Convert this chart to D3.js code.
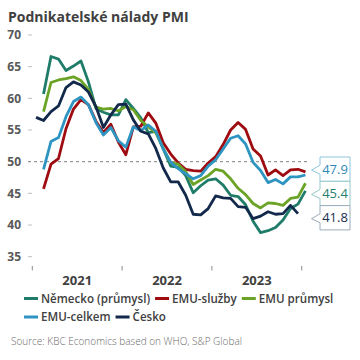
<!DOCTYPE html>
<html><head><meta charset="utf-8">
<script src="https://cdn.jsdelivr.net/npm/d3@7"></script>
<style>
html,body{margin:0;padding:0;background:#fff;}
svg{display:block;}
text{font-family:"Open Sans","Noto Sans",sans-serif;}
</style></head>
<body>
<script>
// ---- data ----
const months = ["2021-01","2021-02","2021-03","2021-04","2021-05","2021-06","2021-07","2021-08","2021-09","2021-10","2021-11","2021-12",
"2022-01","2022-02","2022-03","2022-04","2022-05","2022-06","2022-07","2022-08","2022-09","2022-10","2022-11","2022-12",
"2023-01","2023-02","2023-03","2023-04","2023-05","2023-06","2023-07","2023-08","2023-09","2023-10","2023-11","2023-12","2024-01"];
const yearLabels = ["2021","2022","2023"];
const yearTicks = ["2021-01","2022-01","2023-01","2024-01"];
const yTicks = [35,40,45,50,55,60,65,70];

const nemecko = [null,60.7,66.6,66.2,64.4,65.1,65.9,62.6,58.4,57.8,57.4,57.4,
 59.8,58.4,56.9,54.6,54.8,52.0,49.3,49.1,47.8,45.1,46.2,47.1,
 47.3,46.3,44.7,44.5,43.2,40.6,38.8,39.1,39.6,40.8,42.6,43.3,45.4];
const emuSluzby = [null,45.7,49.6,50.5,55.2,58.3,59.8,59.0,56.4,54.6,55.9,53.1,
 51.1,55.5,55.6,57.7,56.1,53.0,51.2,49.8,48.8,48.6,48.5,49.8,
 50.8,52.7,55.0,56.2,55.1,52.0,50.9,47.9,48.7,47.8,48.7,48.8,48.4];
const emuPrumysl = [null,57.9,62.5,62.9,63.1,63.4,62.8,61.4,58.6,58.3,58.4,58.0,
 58.7,58.2,56.5,55.5,54.6,52.1,49.8,49.6,48.4,46.4,47.1,47.8,
 48.8,48.5,47.3,45.8,44.8,43.4,42.7,43.5,43.4,43.1,44.2,44.4,46.6];
const emuCelkem = [null,48.8,53.2,53.8,57.1,59.5,60.2,59.0,56.2,54.2,55.4,53.3,
 52.3,55.5,54.9,55.8,54.8,52.0,49.9,48.9,48.1,47.3,47.8,49.3,
 50.3,52.0,53.7,54.1,52.8,49.9,48.6,46.7,47.2,46.5,47.6,47.6,47.9];
const cesko = [57.0,56.5,57.9,58.8,61.7,62.6,62.1,61.0,58.7,55.4,57.4,59.0,
 59.1,56.6,54.8,54.4,52.1,49.0,46.8,46.8,44.7,41.7,41.6,42.6,
 44.6,44.3,44.2,42.9,42.8,41.0,41.4,42.1,41.7,41.8,43.1,41.8,null];

const seriesNames = ["Německo (průmysl)","EMU-služby","EMU průmysl","EMU-celkem","Česko"];
const seriesValues = [nemecko, emuSluzby, emuPrumysl, emuCelkem, cesko];
const seriesColors = ["#1f7c69","#9e0b10","#6aa326","#2e95c2","#13294b"];
// callouts: which series, text colour, border colour
const calloutSeries = [3, 0, 4];
const calloutText = ["#2f89b6","#26806e","#1b2f4e"];
const calloutBorder = ["#8fc4dc","#93c9c6","#9aabbb"];

// ---- drawing ----
const W = 360, H = 360;
const svg = d3.select("body").append("svg").attr("width", W).attr("height", H);

const x = d3.scaleBand().domain(months).range([32.3, 309.2]).paddingInner(0).paddingOuter(0);
const y = d3.scaleLinear().domain([35, 70]).range([256.7, 35]);
const cx = m => x(m) + x.bandwidth() / 2;

// title
svg.append("text").attr("x", 8).attr("y", 22)
  .attr("font-size", 14).attr("font-weight", 700).attr("fill", "#404040")
  .text("Podnikatelské nálady PMI");

// y axis ticks & labels
const yg = svg.append("g");
yTicks.forEach(v => {
  if (v !== 50) yg.append("line").attr("x1", 28).attr("x2", 32).attr("y1", y(v)).attr("y2", y(v))
      .attr("stroke", "#bfbfbf").attr("stroke-width", 1);
  yg.append("text").attr("x", 21).attr("y", y(v)).attr("dy", "0.36em")
    .attr("text-anchor", "end").attr("font-size", 12).attr("font-weight", 700)
    .attr("fill", "#595959").text(v);
});
// 50 reference dashed line
svg.append("line").attr("x1", 28).attr("x2", x.range()[1]).attr("y1", y(50)).attr("y2", y(50))
  .attr("stroke", "#808080").attr("stroke-width", 1).attr("stroke-dasharray", "3,3");

// x ticks
yearTicks.forEach(m => {
  svg.append("line").attr("x1", x(m)).attr("x2", x(m)).attr("y1", 266).attr("y2", 270.5)
    .attr("stroke", "#8c8c8c").attr("stroke-width", 1);
});
yearLabels.forEach(yr => {
  const mid = x(yr + "-01") + 6 * x.bandwidth();
  svg.append("text").attr("x", mid).attr("y", 284.5).attr("text-anchor", "middle")
    .attr("font-size", 13).attr("font-weight", 700).attr("fill", "#404040").text(yr);
});

// lines
const line = d3.line().defined(d => d.v != null).x(d => cx(d.m)).y(d => y(d.v)).curve(d3.curveLinear);
seriesValues.forEach((vals, i) => {
  const pts = months.map((m, j) => ({m, v: vals[j]}));
  svg.append("path").datum(pts).attr("d", line)
    .attr("fill", "none").attr("stroke", seriesColors[i]).attr("stroke-width", 2.8)
    .attr("stroke-linejoin", "round").attr("stroke-linecap", "butt");
});

// callouts (stacked at right)
const boxX = 320, boxW = 30, boxTop = 157, boxH = 24.3, tipX = 311.5;
calloutSeries.forEach((si, k) => {
  const vals = seriesValues[si];
  let last = null;
  for (let j = vals.length - 1; j >= 0; j--) { if (vals[j] != null) { last = vals[j]; break; } }
  const t = boxTop + k * boxH, b = t + boxH, cy = (t + b) / 2;
  const p = [[boxX, t],[boxX + boxW, t],[boxX + boxW, b],[boxX, b],[boxX, cy + 5],[tipX, cy + 1],[boxX, cy - 4]];
  svg.append("path").attr("d", "M" + p.map(q => q.join(",")).join("L") + "Z")
    .attr("fill", "#fff").attr("stroke", calloutBorder[k]).attr("stroke-width", 1);
  svg.append("text").attr("x", boxX + boxW / 2).attr("y", cy).attr("dy", "0.36em")
    .attr("text-anchor", "middle").attr("font-size", 13).attr("fill", calloutText[k])
    .text(last.toFixed(1));
});

// legend
const legRows = [[0,1,2],[3,4]];
const legY = [298.5, 317];
legRows.forEach((row, r) => {
  let xx = 24;
  row.forEach(i => {
    svg.append("line").attr("x1", xx).attr("x2", xx + 14).attr("y1", legY[r]).attr("y2", legY[r])
      .attr("stroke", seriesColors[i]).attr("stroke-width", 3);
    const t = svg.append("text").attr("x", xx + 17).attr("y", legY[r]).attr("dy", "0.36em")
      .attr("font-size", 11.6).attr("font-weight", 600).attr("fill", "#404040").text(seriesNames[i]);
    xx += 17 + t.node().getComputedTextLength() + 5;
  });
});

// source
svg.append("text").attr("x", 11).attr("y", 345).attr("font-size", 10).attr("font-weight", 300)
  .attr("fill", "#6b6b6b").text("Source: KBC Economics based on WHO, S&P Global");
</script>
</body></html>
